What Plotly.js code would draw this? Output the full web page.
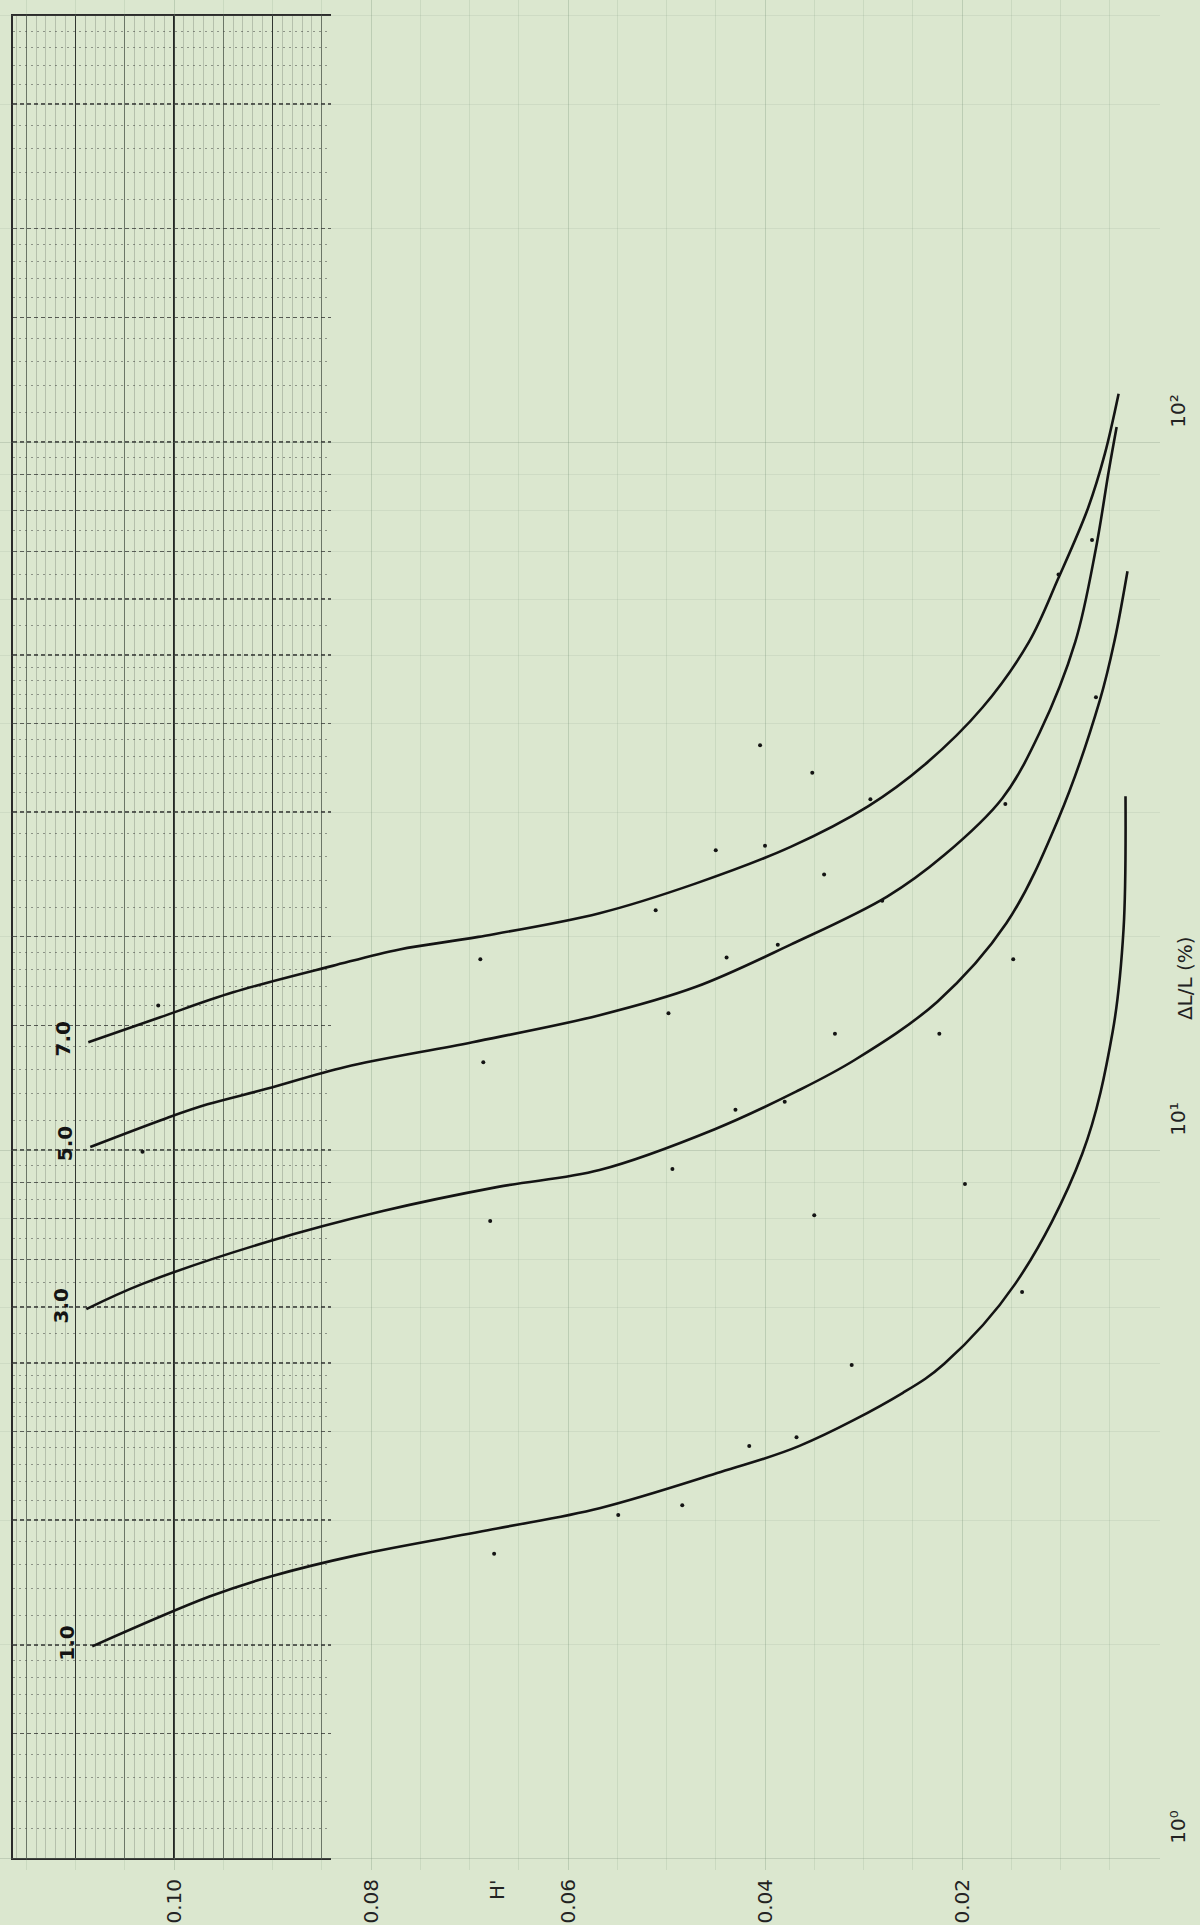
<!DOCTYPE html>
<html>
<head>
<meta charset="utf-8">
<script src="https://cdn.plot.ly/plotly-3.0.1.min.js"></script>
<style>
html,body{margin:0;padding:0;background:#dbe7cf;}
#chart{width:1200px;height:1925px;}
</style>
</head>
<body>
<div id="chart"></div>
<script>
// ---- data: H' (x) and ΔL/L in % (y) ----
const curveNames = ['1.0', '3.0', '5.0', '7.0'];

const c10_h  = [0.1083, 0.0964, 0.0901, 0.0813, 0.0672, 0.0568, 0.0445, 0.0365, 0.0260, 0.0218, 0.0146, 0.0078, 0.0047, 0.0036, 0.0034];
const c10_dl = [1.99, 2.34, 2.50, 2.68, 2.92, 3.12, 3.51, 3.82, 4.54, 4.99, 6.47, 9.87, 14.7, 20.5, 31.6];

const c30_h  = [0.1089, 0.1032, 0.0905, 0.0788, 0.0671, 0.0568, 0.0451, 0.0368, 0.0309, 0.0225, 0.0155, 0.0102, 0.0060, 0.0045, 0.0032];
const c30_dl = [5.96, 6.47, 7.42, 8.20, 8.87, 9.37, 10.7, 12.1, 13.4, 16.2, 20.9, 29.4, 43.2, 52.5, 65.7];

const c50_h  = [0.1085, 0.1007, 0.0966, 0.0906, 0.0826, 0.0697, 0.0568, 0.0470, 0.0374, 0.0276, 0.0218, 0.0159, 0.0121, 0.0085, 0.0064, 0.0051, 0.0043];
const c50_dl = [10.1, 11.1, 11.6, 12.2, 13.1, 14.2, 15.5, 17.0, 19.5, 22.8, 26.1, 31.4, 38.9, 52.2, 70.8, 91.0, 105];

const c70_h  = [0.1087, 0.1014, 0.0940, 0.0839, 0.0771, 0.0691, 0.0568, 0.0470, 0.0374, 0.0295, 0.0238, 0.0179, 0.0132, 0.0102, 0.0072, 0.0055, 0.0041];
const c70_dl = [14.2, 15.4, 16.7, 18.2, 19.2, 20.0, 21.6, 23.8, 26.8, 30.6, 35.0, 42.2, 52.2, 64.3, 80.7, 96.2, 117];

// measured points (dots)
const d10_h  = [0.0675, 0.0549, 0.0484, 0.0416, 0.0368, 0.0312, 0.0197, 0.0139];
const d10_dl = [2.69, 3.05, 3.15, 3.82, 3.93, 4.97, 8.95, 6.30];
const d30_h  = [0.0679, 0.0494, 0.0430, 0.0380, 0.0350, 0.0329, 0.0223, 0.0148, 0.0064];
const d30_dl = [7.94, 9.40, 11.4, 11.7, 8.09, 14.6, 14.6, 18.6, 43.6];
const d50_h  = [0.1032, 0.0686, 0.0498, 0.0439, 0.0387, 0.0281, 0.0156];
const d50_dl = [9.94, 13.3, 15.6, 18.7, 19.5, 22.5, 30.8];
const d70_h  = [0.1016, 0.0689, 0.0511, 0.0450, 0.0400, 0.0352, 0.0340, 0.0405, 0.0293, 0.0102, 0.0068];
const d70_dl = [16.0, 18.6, 21.8, 26.5, 26.9, 34.1, 24.5, 37.3, 31.3, 65.0, 72.7];

// tick labels
const hTicks = [0.02, 0.04, 0.06, 0.08, 0.10];
const dlTicks = [1, 10, 100];
const dlTickText = ['10\u2070', '10\u00b9', '10\u00b2'];
const xTitle = "H'";
const yTitle = 'ΔL/L (%)';

// ---- graph-paper ruling (styling only) ----
const paperMajor = [];
const paperMinor = [];
[1, 10, 100].forEach(function (d) {
  [1, 1.5, 2, 3, 4, 5, 6, 7, 8, 9].forEach(function (m) { paperMajor.push(d * m); });
  for (let v = 1.1; v < 1.99; v += 0.1) { if (Math.abs(v - 1.5) > 1e-6) paperMinor.push(d * v); }
  for (let v = 2.2; v < 4.99; v += 0.2) { if (Math.abs(v - Math.round(v)) > 1e-6) paperMinor.push(d * v); }
  for (let v = 5.5; v < 9.99; v += 1) { paperMinor.push(d * v); }
});

const curvesH = [c10_h, c30_h, c50_h, c70_h];
const curvesDL = [c10_dl, c30_dl, c50_dl, c70_dl];
const dotsH = [d10_h, d30_h, d50_h, d70_h];
const dotsDL = [d10_dl, d30_dl, d50_dl, d70_dl];

const ink = '#141414';
const traces = [
  {x: [null], y: [null], xaxis: 'x', yaxis: 'y', mode: 'markers', hoverinfo: 'skip', showlegend: false},
  {x: [null], y: [null], xaxis: 'x2', yaxis: 'y', mode: 'markers', hoverinfo: 'skip', showlegend: false}
];
curveNames.forEach(function (name, i) {
  traces.push({
    x: curvesH[i], y: curvesDL[i], xaxis: 'x3', yaxis: 'y3',
    mode: 'lines', name: name, showlegend: false,
    line: {color: ink, width: 2.6, shape: 'spline', smoothing: 1}
  });
  traces.push({
    x: dotsH[i], y: dotsDL[i], xaxis: 'x3', yaxis: 'y3',
    mode: 'markers', name: name + ' data', showlegend: false,
    marker: {color: ink, size: 4}
  });
});

const annotations = curveNames.map(function (name, i) {
  return {
    xref: 'x3', yref: 'y3', x: curvesH[i][0], y: Math.log10(curvesDL[i][0]),
    text: name, showarrow: false, textangle: -90,
    xanchor: 'center', yanchor: 'middle', xshift: -25, yshift: 3,
    font: {family: 'DejaVu Sans', size: 20, color: ink, weight: 700}
  };
});
annotations.push({
  xref: 'paper', yref: 'paper', x: 0.4284, y: -0.0102, text: xTitle,
  showarrow: false, textangle: -90, xanchor: 'center', yanchor: 'middle',
  font: {family: 'DejaVu Sans', size: 20, color: '#222'}
});
annotations.push({
  xref: 'paper', yref: 'paper', x: 1.0216, y: 0.477, text: yTitle,
  showarrow: false, textangle: -90, xanchor: 'center', yanchor: 'middle',
  font: {family: 'DejaVu Sans', size: 20, color: '#222'}
});

const gridX = [0.116345, 0.084061];
const layout = {
  width: 1200, height: 1925,
  margin: {l: 0, r: 40, t: 0, b: 55},
  paper_bgcolor: '#dbe7cf',
  plot_bgcolor: 'rgba(0,0,0,0)',
  showlegend: false,
  // graph paper area
  xaxis: {
    domain: [0.011207, 0.285345], anchor: 'y', range: gridX,
    tick0: 0, dtick: 0.005, showticklabels: false, ticks: '',
    showgrid: true, gridcolor: 'rgba(45,50,45,0.65)', gridwidth: 1.1,
    minor: {dtick: 0.001, showgrid: true, gridcolor: 'rgba(70,80,70,0.32)', gridwidth: 0.8, ticks: ''},
    showline: true, mirror: true, linecolor: '#2b2b2b', linewidth: 1.6, zeroline: false
  },
  xaxis2: {
    overlaying: 'x', anchor: 'y', range: gridX,
    tick0: 0, dtick: 0.01, showticklabels: false, ticks: '',
    showgrid: true, gridcolor: 'rgba(25,25,25,0.85)', gridwidth: 1.5,
    showline: false, zeroline: false
  },
  yaxis: {
    domain: [0.006417, 0.99166], anchor: 'x', type: 'log', range: [0, 2.60206],
    tickmode: 'array', tickvals: paperMajor, showticklabels: false, ticks: '',
    showgrid: true, gridcolor: 'rgba(30,30,30,0.7)', gridwidth: 1.4, griddash: '4px,3px',
    minor: {tickmode: 'array', tickvals: paperMinor, showgrid: true, ticks: '',
            gridcolor: 'rgba(45,45,45,0.45)', gridwidth: 1, griddash: '2px,4px'},
    showline: true, mirror: false, linecolor: '#2b2b2b', linewidth: 1.6, zeroline: false
  },
  // data axes
  xaxis3: {
    domain: [0, 1], anchor: 'y3', range: [0.117665, -0.000102],
    tickmode: 'array', tickvals: hTicks, tickformat: '.2f', tickangle: -90,
    ticks: '', ticklabelstandoff: 4,
    tickfont: {family: 'DejaVu Sans', size: 20, color: '#222'},
    showgrid: true, gridcolor: 'rgba(120,140,120,0.16)', gridwidth: 1,
    minor: {dtick: 0.005, showgrid: true, gridcolor: 'rgba(120,140,120,0.16)', ticks: ''},
    showline: false, zeroline: false
  },
  yaxis3: {
    domain: [0, 1], anchor: 'x3', side: 'right', type: 'log',
    range: [-0.016949, 2.62429],
    tickmode: 'array', tickvals: dlTicks, ticktext: dlTickText, tickangle: -90,
    ticks: '', ticklabelshift: -28, ticklabelstandoff: 4,
    tickfont: {family: 'DejaVu Sans', size: 20, color: '#222'},
    showgrid: true, gridcolor: 'rgba(120,140,120,0.16)', gridwidth: 1,
    minor: {dtick: 'D1', showgrid: true, gridcolor: 'rgba(120,140,120,0.13)', ticks: ''},
    showline: false, zeroline: false
  },
  annotations: annotations
};

Plotly.newPlot('chart', traces, layout, {staticPlot: true, displayModeBar: false});
</script>
</body>
</html>
